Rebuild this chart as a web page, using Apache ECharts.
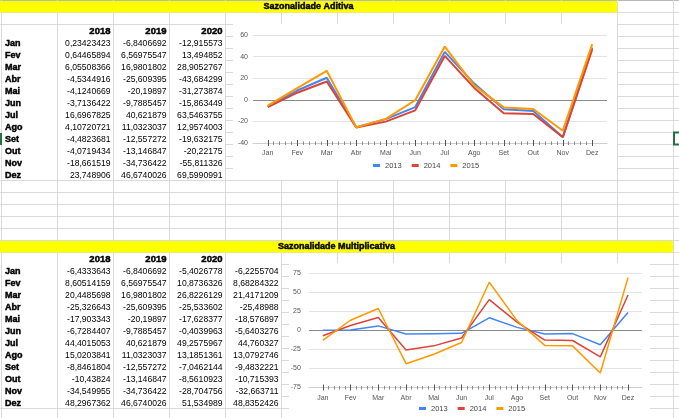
<!DOCTYPE html>
<html><head><meta charset="utf-8">
<script src="https://cdn.jsdelivr.net/npm/echarts@6/dist/echarts.min.js"></script>
<style>html,body{margin:0;padding:0;background:#fff;overflow:hidden}#c{width:679px;height:418px}</style>
</head><body><div id="c"></div>
<script>
// ---------- data ----------
const months = ['Jan','Fev','Mar','Abr','Mai','Jun','Jul','Ago','Set','Out','Nov','Dez'];
const addTitle = 'Sazonalidade Aditiva';
const multTitle = 'Sazonalidade Multiplicativa';
const addHeaders = ['2018','2019','2020'];
const add2018 = ['0,23423423','0,64465894','6,05508366','-4,5344916','-4,1240669','-3,7136422','16,6967825','4,10720721','-4,4823681','-4,0719434','-18,661519','23,748906'];
const add2019 = ['-6,8406692','6,56975547','16,9801802','-25,609395','-20,19897','-9,7885457','40,621879','11,0323037','-12,557272','-13,146847','-34,736422','46,6740026'];
const add2020 = ['-12,915573','13,494852','28,9052767','-43,684299','-31,273874','-15,863449','63,5463755','12,9574003','-19,632175','-20,22175','-55,811326','69,5990991'];
const multHeaders = ['2018','2019','2020',''];
const mult2018 = ['-6,4333643','8,60514159','20,4485698','-25,326643','-17,903343','-6,7284407','44,4015053','15,0203841','-8,8461804','-10,43824','-34,549955','48,2967362'];
const mult2019 = ['-6,8406692','6,56975547','16,9801802','-25,609395','-20,19897','-9,7885457','40,621879','11,0323037','-12,557272','-13,146847','-34,736422','46,6740026'];
const mult2020 = ['-5,4026778','10,8736326','26,8226129','-25,533602','-17,628377','-0,4039963','49,2575967','13,1851361','-7,0462144','-8,5610923','-28,704756','51,534989'];
const multMean = ['-6,2255704','8,68284322','21,4171209','-25,48988','-18,576897','-5,6403276','44,760327','13,0792746','-9,4832221','-10,715393','-32,663711','48,8352426'];
const legendNames = ['2013','2014','2015'];
const topAxisTicks = [-40, 60, 20];     // min, max, step
const bottomAxisTicks = [-75, 75, 25];  // min, max, step

// ---------- helpers ----------
const toNum = s => Number(s.replace(',', '.'));
const colors = ['#4285F4', '#DB4437', '#FF9900'];
const W = 679, H = 418;
const FONT = '"Liberation Sans", Arial, sans-serif';

const g = [];
// spreadsheet grid (no inner horizontal lines inside the two tables)
for (let k = 0; k <= 35; k++) {
  const y = 12 * k + 0.5;
  let x1 = 0;
  if (k >= 3 && k <= 14) x1 = 225.5;
  if (k >= 22 && k <= 33) x1 = 281.5;
  g.push({type:'line', silent:true, z:-30, shape:{x1:x1,y1:y,x2:W,y2:y}, style:{stroke: k===0 ? '#b8b8b8' : '#dadada', lineWidth:1}});
}
for (let k = 0; k <= 12; k++) {
  const x = 56 * k + 1.5;
  g.push({type:'line', silent:true, z:-30, shape:{x1:x,y1:0,x2:x,y2:H}, style:{stroke:'#dadada', lineWidth:1}});
}
// yellow title bars
g.push({type:'rect', silent:true, z:-20, shape:{x:0,y:1,width:617,height:11.5}, style:{fill:'#ffff00'}});
g.push({type:'rect', silent:true, z:-20, shape:{x:0,y:241,width:673,height:11.5}, style:{fill:'#ffff00'}});
// chart backgrounds
g.push({type:'rect', silent:true, z:-20, shape:{x:233,y:24,width:384,height:156}, style:{fill:'#ffffff'}});
g.push({type:'rect', silent:true, z:-20, shape:{x:289,y:263,width:361,height:155}, style:{fill:'#ffffff'}});
// selection marks
g.push({type:'rect', silent:true, z:-10, shape:{x:674,y:132.5,width:8,height:12}, style:{fill:'none', stroke:'#217346', lineWidth:2}});
g.push({type:'rect', silent:true, z:-10, shape:{x:0,y:133,width:2,height:12}, style:{fill:'#217346'}});

function txt(x, y, s, align, bold, size) {
  g.push({type:'text', silent:true, z:-5, x:x, y:y,
    style:{text:s, align:align, verticalAlign:'middle', fill:'#000',
      font:(bold ? 'bold ' : '') + size + 'px ' + FONT,
      stroke: bold ? '#000' : null, lineWidth: bold ? 0.45 : 0}});
}
// titles
txt(308.5, 7, addTitle, 'center', true, 9);
txt(336.5, 247, multTitle, 'center', true, 9);

function table(rowTop, headers, cols) {
  headers.forEach((h, i) => txt(56 * (i + 2) - 1.5, rowTop + 7, h, 'right', true, 9.5));
  months.forEach((m, r) => {
    const cy = rowTop + 12 * (r + 1) + 7;
    txt(5, cy, m, 'left', true, 9);
    cols.forEach((col, i) => txt(56 * (i + 2) - 1.5, cy, col[r], 'right', false, 8.6));
  });
}
table(24.5, addHeaders, [add2018, add2019, add2020]);
table(252.5, multHeaders, [mult2018, mult2019, mult2020, multMean]);

// ---------- chart axes ----------
function splitColors(t) {
  const arr = [];
  for (let v = t[0]; v <= t[1]; v += t[2]) arr.push(v === 0 ? '#8a8a8a' : '#e3e3e3');
  return arr;
}
function chartAxes(gi) {
  return [
    {gridIndex:gi, type:'category', position:'bottom', data:months, boundaryGap:true,
      axisLine:{onZero:false, lineStyle:{color:'#cfcfcf'}}, axisTick:{show:false},
      axisLabel:{fontSize:7, color:'#555', margin:7, interval:0, fontFamily:FONT}},
    {gridIndex:gi+1, type:'value', position:'bottom', min:0, max:11, interval:1, offset:-3,
      axisLine:{show:false, onZero:false}, axisTick:{show:true, length:6, lineStyle:{color:'#555', width:1}},
      axisLabel:{show:false}, splitLine:{show:false}},
    {gridIndex:gi+1, type:'value', position:'bottom', min:0, max:11, interval:1, offset:-1.5,
      axisLine:{show:false, onZero:false}, axisTick:{show:false},
      minorTick:{show:true, splitNumber:5, length:3.5, lineStyle:{color:'#8a8a8a', width:1}},
      axisLabel:{show:false}, splitLine:{show:false}, minorSplitLine:{show:false}}
  ];
}
function yAxes(gi, t, margin) {
  return [
    {gridIndex:gi, type:'value', min:t[0], max:t[1], interval:t[2],
      axisLine:{show:false}, axisTick:{show:false},
      axisLabel:{fontSize:7, color:'#555', margin:margin, fontFamily:FONT},
      splitLine:{show:true, lineStyle:{color:splitColors(t), width:1}}},
    {gridIndex:gi+1, type:'value', min:t[0], max:t[1], show:false}
  ];
}
function lines(xi, yi, cols, width) {
  return cols.map((col, i) => ({
    name: legendNames[i], type:'line', xAxisIndex:xi, yAxisIndex:yi,
    data: col.map(toNum), symbol:'none', showSymbol:false,
    lineStyle:{width:width, color:colors[i]}, itemStyle:{color:colors[i]}, z:3 + i
  }));
}
function legend(left, top) {
  return {left:left, top:top, padding:0, itemWidth:7, itemHeight:3, itemGap:10, icon:'rect',
    data:legendNames, textStyle:{fontSize:7.5, color:'#444', fontFamily:FONT}};
}

const option = {
  animation:false,
  backgroundColor:'#ffffff',
  graphic:{elements:g},
  grid:[
    {left:253, right:W-607, top:35, bottom:H-143},
    {left:267.75, right:W-592.25, top:35, bottom:H-143},
    {left:308.9, right:W-641.9, top:273.5, bottom:H-387.5},
    {left:322.8, right:W-628, top:273.5, bottom:H-387.5}
  ],
  xAxis:[...chartAxes(0), ...chartAxes(2)],
  yAxis:[...yAxes(0, topAxisTicks, 5), ...yAxes(2, bottomAxisTicks, 8)],
  legend:[legend(373, 161.5), legend(419, 404.5)],
  series:[
    ...lines(0, 0, [mult2018, mult2019, mult2020], 2),
    ...lines(3, 2, [add2018, add2019, add2020], 1.5)
  ]
};
const chart = echarts.init(document.getElementById('c'), null, {renderer:'canvas'});
chart.setOption(option);
</script></body></html>
